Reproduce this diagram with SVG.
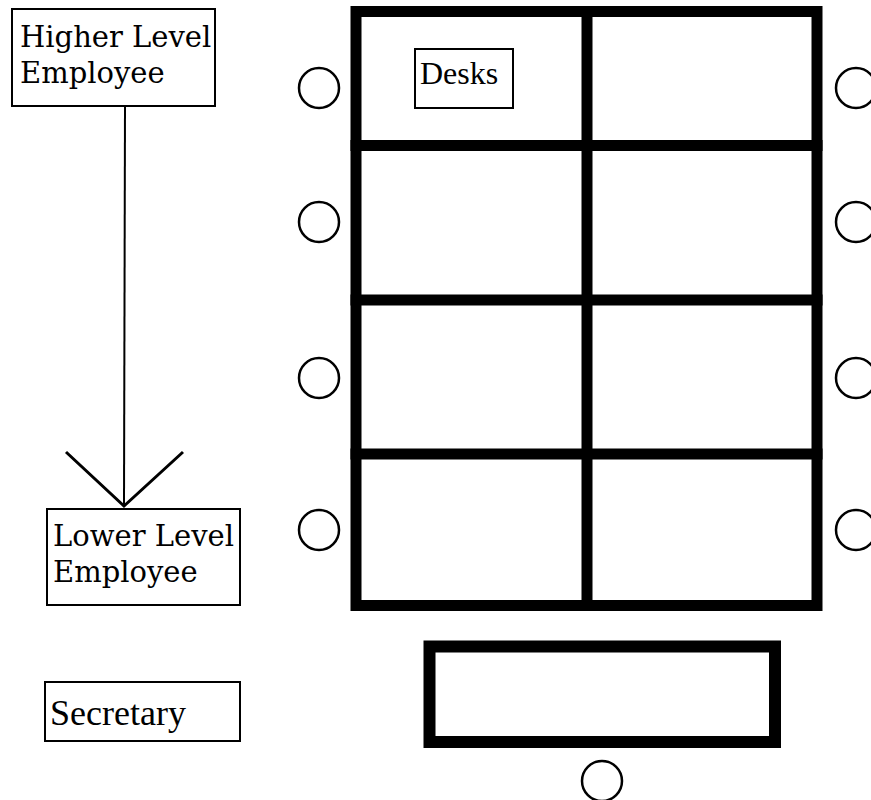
<svg xmlns="http://www.w3.org/2000/svg" width="871" height="800" viewBox="0 0 871 800">
  <style>
    .label-box { fill: #fff; stroke: #000; stroke-width: 2; }
    .wide { font-family: "DejaVu Serif", "Liberation Serif", serif; font-size: 29px; fill: #000; }
    .narrow { font-family: "Liberation Serif", "DejaVu Serif", serif; font-size: 32px; fill: #000; }
    .narrow.large { font-size: 36px; }
    .desk { fill: none; stroke: #000; stroke-width: 11; stroke-linecap: square; }
    .desk.heavy { stroke-width: 12; }
    .chair { fill: #fff; stroke: #000; stroke-width: 2.5; }
    .link { fill: none; stroke: #000; stroke-width: 2; }
    .head { fill: none; stroke: #000; stroke-width: 3; }
  </style>
  <rect width="871" height="800" fill="#fff"/>

  <!-- reporting line: higher level down to lower level -->
  <g id="connectors">
    <line class="link" x1="125" y1="106" x2="124" y2="505"/>
    <polyline class="head" points="66,452 124,506 183,452"/>
  </g>

  <g id="higher-employee">
    <rect class="label-box" x="12" y="9" width="203" height="97"/>
    <text class="wide" x="20" y="47">Higher Level</text>
    <text class="wide" x="20" y="83">Employee</text>
  </g>

  <g id="lower-employee">
    <rect class="label-box" x="47" y="509" width="193" height="96"/>
    <text class="wide" x="53" y="546">Lower Level</text>
    <text class="wide" x="53" y="582">Employee</text>
  </g>

  <g id="secretary">
    <rect class="label-box" x="45" y="682" width="195" height="59"/>
    <text class="narrow large" x="50" y="725">Secretary</text>
  </g>

  <!-- block of eight desks, two columns by four rows -->
  <g id="desk-grid">
    <rect class="desk" x="356" y="11.5" width="461" height="594"/>
    <line class="desk" x1="587" y1="11.5" x2="587" y2="605.5"/>
    <line class="desk" x1="356" y1="145.5" x2="817" y2="145.5"/>
    <line class="desk" x1="356" y1="300" x2="817" y2="300"/>
    <line class="desk" x1="356" y1="454" x2="817" y2="454"/>
  </g>

  <g id="desks-label">
    <rect class="label-box" x="415" y="49" width="98" height="59"/>
    <text class="narrow" x="420" y="84">Desks</text>
  </g>

  <g id="secretary-desk">
    <rect class="desk heavy" x="429.5" y="646.5" width="345.5" height="95.5"/>
  </g>

  <g id="chairs">
    <circle class="chair" cx="319" cy="88" r="20"/>
    <circle class="chair" cx="319" cy="222" r="20"/>
    <circle class="chair" cx="319" cy="378" r="20"/>
    <circle class="chair" cx="319" cy="530" r="20"/>
    <circle class="chair" cx="856" cy="88" r="20"/>
    <circle class="chair" cx="856" cy="222" r="20"/>
    <circle class="chair" cx="856" cy="378" r="20"/>
    <circle class="chair" cx="856" cy="530" r="20"/>
    <circle class="chair" cx="602" cy="781" r="20"/>
  </g>
</svg>
